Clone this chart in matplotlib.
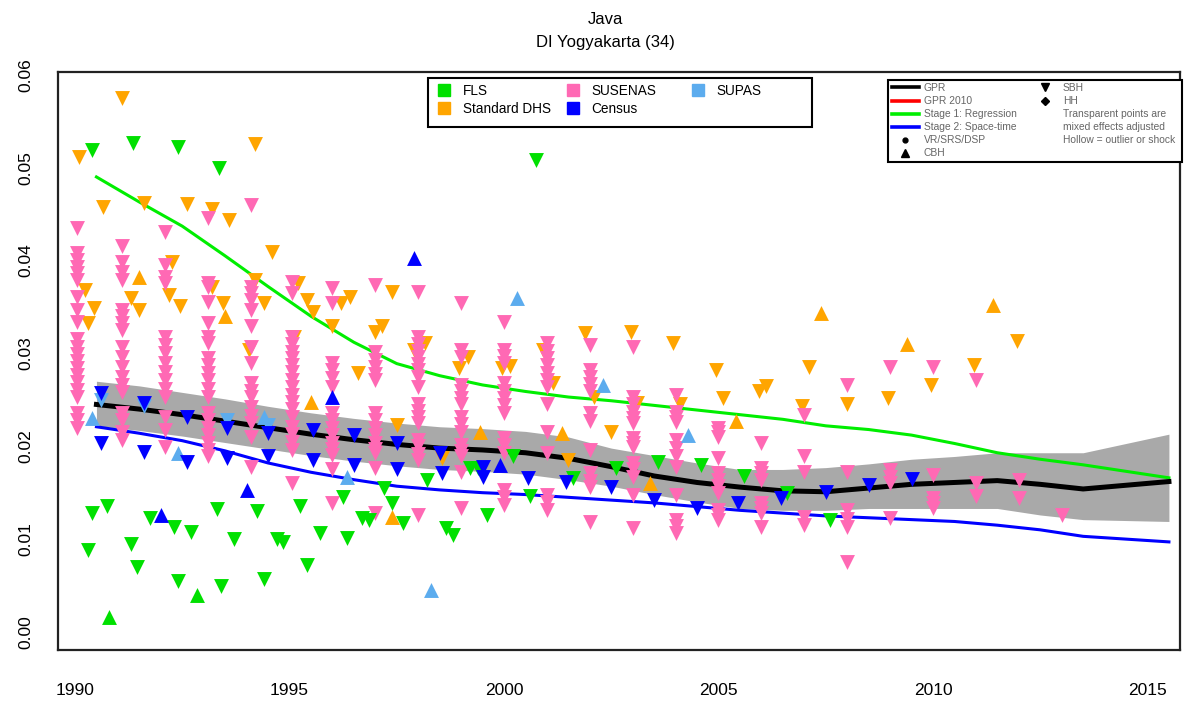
import matplotlib
matplotlib.use("Agg")
import matplotlib.pyplot as plt
from matplotlib.lines import Line2D
from matplotlib.patches import Rectangle
import numpy as np

plt.rcParams['font.family'] = ['Liberation Sans', 'DejaVu Sans']

# ---------------- data ----------------
line_years = [1990.5 + i for i in range(26)]
gpr = [0.0245, 0.0240, 0.0234, 0.0227, 0.0220, 0.0213, 0.0207, 0.0202, 0.0198, 0.0196,
       0.0193, 0.0187, 0.0178, 0.0168, 0.0161, 0.0156, 0.0152, 0.0151, 0.0155, 0.0159,
       0.0161, 0.0163, 0.0159, 0.0154, 0.0158, 0.0162]
gpr_upper = [0.0270, 0.0265, 0.0258, 0.0251, 0.0243, 0.0236, 0.0230, 0.0225, 0.0221, 0.0219,
             0.0216, 0.0210, 0.0198, 0.0190, 0.0182, 0.0175, 0.0175, 0.0177, 0.0181, 0.0186,
             0.0189, 0.0193, 0.0193, 0.0193, 0.0203, 0.0213]
gpr_lower = [0.0222, 0.0217, 0.0211, 0.0204, 0.0197, 0.0190, 0.0184, 0.0179, 0.0175, 0.0173,
             0.0170, 0.0164, 0.0157, 0.0148, 0.0140, 0.0133, 0.0131, 0.0131, 0.0133, 0.0133,
             0.0133, 0.0133, 0.0126, 0.0121, 0.0120, 0.0119]
stage1 = [0.0490, 0.0463, 0.0437, 0.0405, 0.0372, 0.0340, 0.0312, 0.0289, 0.0276, 0.0266,
          0.0259, 0.0253, 0.0249, 0.0244, 0.0239, 0.0234, 0.0229, 0.0222, 0.0218, 0.0212,
          0.0203, 0.0193, 0.0186, 0.0180, 0.0173, 0.0166]
stage2 = [0.0221, 0.0214, 0.0206, 0.0195, 0.0182, 0.0172, 0.0164, 0.0157, 0.0153, 0.0150,
          0.0148, 0.0145, 0.0142, 0.0139, 0.0135, 0.0131, 0.0128, 0.0125, 0.0123, 0.0121,
          0.0119, 0.0115, 0.0110, 0.0103, 0.0100, 0.0097]

# SUSENAS (SBH) columns: survey year -> estimates
susenas_years = [1990.05, 1991.1, 1992.1, 1993.1, 1994.1, 1995.05, 1996.0, 1997.0, 1998.0,
                 1999.0, 2000.0, 2001.0, 2002.0, 2003.0, 2004.0, 2005.0, 2006.0, 2007.0,
                 2008.0, 2009.0, 2010.0, 2011.0, 2012.0, 2013.0]
susenas_vals = [
    [0.0435, 0.0408, 0.0401, 0.0393, 0.0387, 0.0379, 0.0361, 0.0347, 0.0334, 0.0315, 0.0307,
     0.0299, 0.0292, 0.0284, 0.0277, 0.0269, 0.0261, 0.0253, 0.0236, 0.0228, 0.0220],
    [0.0416, 0.0398, 0.0388, 0.0379, 0.0347, 0.0340, 0.0333, 0.0325, 0.0307, 0.0296, 0.0285,
     0.0275, 0.0266, 0.0258, 0.0236, 0.0228, 0.0215, 0.0207],
    [0.0431, 0.0395, 0.0382, 0.0376, 0.0318, 0.0309, 0.0300, 0.0290, 0.0280, 0.0271, 0.0262,
     0.0253, 0.0231, 0.0218, 0.0199],
    [0.0446, 0.0376, 0.0372, 0.0355, 0.0333, 0.0318, 0.0311, 0.0295, 0.0287, 0.0279, 0.0271,
     0.0262, 0.0253, 0.0236, 0.0228, 0.0220, 0.0212, 0.0203, 0.0196, 0.0189],
    [0.0460, 0.0372, 0.0365, 0.0358, 0.0347, 0.0329, 0.0307, 0.0290, 0.0268, 0.0260, 0.0253,
     0.0242, 0.0233, 0.0225, 0.0210, 0.0178],
    [0.0377, 0.0365, 0.0318, 0.0310, 0.0302, 0.0295, 0.0287, 0.0280, 0.0271, 0.0264, 0.0255,
     0.0248, 0.0240, 0.0232, 0.0221, 0.0213, 0.0205, 0.0196, 0.0160],
    [0.0370, 0.0354, 0.0290, 0.0282, 0.0273, 0.0264, 0.0236, 0.0228, 0.0220, 0.0212, 0.0204,
     0.0197, 0.0191, 0.0175, 0.0139],
    [0.0374, 0.0301, 0.0293, 0.0285, 0.0278, 0.0271, 0.0236, 0.0228, 0.0220, 0.0212, 0.0204,
     0.0197, 0.0193, 0.0177, 0.0128],
    [0.0366, 0.0318, 0.0310, 0.0303, 0.0296, 0.0289, 0.0282, 0.0275, 0.0264, 0.0245, 0.0238,
     0.0231, 0.0225, 0.0207, 0.0200, 0.0192, 0.0185, 0.0126],
    [0.0354, 0.0304, 0.0296, 0.0266, 0.0259, 0.0252, 0.0245, 0.0232, 0.0224, 0.0215, 0.0201,
     0.0195, 0.0189, 0.0172, 0.0134],
    [0.0334, 0.0304, 0.0297, 0.0290, 0.0268, 0.0260, 0.0252, 0.0244, 0.0236, 0.0209, 0.0201,
     0.0193, 0.0153, 0.0145, 0.0137],
    [0.0311, 0.0303, 0.0295, 0.0287, 0.0279, 0.0271, 0.0264, 0.0245, 0.0215, 0.0193, 0.0148,
     0.0140, 0.0131],
    [0.0309, 0.0282, 0.0275, 0.0267, 0.0259, 0.0236, 0.0227, 0.0196, 0.0171, 0.0163, 0.0156,
     0.0118],
    [0.0307, 0.0253, 0.0245, 0.0237, 0.0230, 0.0225, 0.0209, 0.0204, 0.0199, 0.0182, 0.0175,
     0.0167, 0.0148, 0.0112],
    [0.0255, 0.0237, 0.0231, 0.0226, 0.0207, 0.0198, 0.0189, 0.0178, 0.0148, 0.0121, 0.0114,
     0.0107],
    [0.0220, 0.0215, 0.0210, 0.0187, 0.0171, 0.0164, 0.0157, 0.0150, 0.0131, 0.0126, 0.0121],
    [0.0204, 0.0177, 0.0171, 0.0164, 0.0139, 0.0134, 0.0128, 0.0113],
    [0.0234, 0.0189, 0.0172, 0.0124, 0.0115],
    [0.0266, 0.0172, 0.0131, 0.0122, 0.0113, 0.0075],
    [0.0285, 0.0174, 0.0167, 0.0160, 0.0123],
    [0.0285, 0.0169, 0.0144, 0.0139, 0.0134],
    [0.0271, 0.0160, 0.0146],
    [0.0164, 0.0144],
    [0.0126],
]

# Standard DHS
dhs_sbh_x = [1990.1, 1990.65, 1990.23, 1990.45, 1990.3, 1991.1, 1991.3, 1991.5, 1991.6,
             1992.6, 1992.25, 1992.2, 1992.45, 1993.2, 1993.6, 1993.2, 1993.45,
             1994.2, 1994.6, 1994.2, 1994.4, 1994.05, 1995.2, 1995.4, 1995.55, 1995.1,
             1996.0, 1996.2, 1996.4, 1996.6, 1997.0, 1997.15, 1997.4, 1997.5,
             1997.9, 1998.15, 1998.55, 1998.95, 1999.15, 1999.95, 2000.15, 2000.9,
             2001.15, 2001.5, 2001.9, 2002.1, 2002.5, 2002.95, 2003.1, 2003.95, 2004.1,
             2004.95, 2005.1, 2005.95, 2006.1, 2006.95, 2007.1, 2008.0, 2008.95, 2009.95,
             2010.95, 2011.95]
dhs_sbh_y = [0.0512, 0.0458, 0.0368, 0.0349, 0.0333, 0.0575, 0.0360, 0.0347, 0.0462,
             0.0461, 0.0398, 0.0363, 0.0351, 0.0455, 0.0444, 0.0372, 0.0354,
             0.0525, 0.0409, 0.0379, 0.0354, 0.0304, 0.0376, 0.0358, 0.0345, 0.0318,
             0.0329, 0.0354, 0.0361, 0.0279, 0.0323, 0.0329, 0.0366, 0.0223,
             0.0304, 0.0311, 0.0187, 0.0284, 0.0296, 0.0284, 0.0286, 0.0304,
             0.0268, 0.0185, 0.0322, 0.0253, 0.0215, 0.0323, 0.0247, 0.0311, 0.0245,
             0.0282, 0.0252, 0.0259, 0.0265, 0.0243, 0.0285, 0.0245, 0.0252, 0.0266,
             0.0287, 0.0313]
dhs_cbh_x = [1991.5, 1993.5, 1995.5, 1997.4, 1999.45, 2001.35, 2003.4, 2005.4, 2007.4,
             2009.4, 2011.4]
dhs_cbh_y = [0.0382, 0.0340, 0.0248, 0.0124, 0.0215, 0.0214, 0.0160, 0.0227, 0.0344,
             0.0310, 0.0352]

# FLS
fls_sbh_x = [1990.4, 1991.35, 1992.4, 1993.35, 2000.75, 1990.75, 1990.4, 1990.3, 1991.3,
             1991.45, 1991.75, 1992.3, 1992.7, 1992.4, 1993.3, 1993.4, 1993.7, 1994.25,
             1994.4, 1994.7, 1994.85, 1995.25, 1995.7, 1995.4, 1996.25, 1996.35, 1997.2,
             1997.4, 1996.7, 1996.85, 1997.65, 1998.2, 1998.65, 1998.8, 1999.2, 1999.4,
             1999.6, 2000.2, 2000.6, 2001.6, 2002.6, 2003.6, 2004.6, 2005.6, 2006.6, 2007.6]
fls_sbh_y = [0.0519, 0.0527, 0.0522, 0.0500, 0.0508, 0.0136, 0.0128, 0.0088, 0.0095,
             0.0070, 0.0123, 0.0113, 0.0108, 0.0055, 0.0132, 0.0050, 0.0100, 0.0130,
             0.0057, 0.0100, 0.0097, 0.0136, 0.0107, 0.0072, 0.0145, 0.0101, 0.0155,
             0.0139, 0.0123, 0.0121, 0.0117, 0.0164, 0.0112, 0.0104, 0.0177, 0.0177,
             0.0126, 0.0189, 0.0146, 0.0166, 0.0177, 0.0183, 0.0180, 0.0168, 0.0150, 0.0121]
fls_cbh_x = [1990.8, 1992.85]
fls_cbh_y = [0.0016, 0.0040]

# Census
census_sbh_x = [1990.6, 1990.6, 1991.6, 1991.6, 1992.6, 1992.6, 1993.55, 1993.55, 1994.5,
                1994.5, 1995.55, 1995.55, 1996.5, 1996.5, 1997.5, 1997.5, 1998.5, 1998.55,
                1999.5, 1999.5, 2000.55, 2001.45, 2002.5, 2003.5, 2004.5, 2005.45, 2006.45,
                2007.5, 2008.5, 2009.5]
census_sbh_y = [0.0257, 0.0204, 0.0247, 0.0194, 0.0232, 0.0183, 0.0220, 0.0187, 0.0214,
                0.0190, 0.0218, 0.0185, 0.0212, 0.0180, 0.0204, 0.0175, 0.0193, 0.0171,
                0.0178, 0.0167, 0.0166, 0.0162, 0.0156, 0.0142, 0.0133, 0.0139, 0.0144,
                0.0151, 0.0158, 0.0165]
census_cbh_x = [1992.0, 1994.0, 1996.0, 1997.9, 1999.9]
census_cbh_y = [0.0126, 0.0153, 0.0253, 0.0403, 0.0180]

# SUPAS
supas_sbh_x = [1990.6, 1991.6, 1993.55, 1994.5]
supas_sbh_y = [0.0250, 0.0243, 0.0228, 0.0223]
supas_cbh_x = [1990.4, 1992.4, 1994.4, 1996.35, 1998.3, 2000.3, 2002.3, 2004.3]
supas_cbh_y = [0.0230, 0.0193, 0.0232, 0.0167, 0.0045, 0.0360, 0.0266, 0.0212]

x_ticks = [1990, 1995, 2000, 2005, 2010, 2015]
y_ticks = [0.00, 0.01, 0.02, 0.03, 0.04, 0.05, 0.06]
y_ticklabels = ["0.00", "0.01", "0.02", "0.03", "0.04", "0.05", "0.06"]

# ---------------- colours ----------------
C_FLS = "#00E000"
C_DHS = "#FFA500"
C_SUS = "#FF69B4"
C_CEN = "#0000FF"
C_SUP = "#5CACEE"

# ---------------- figure ----------------
W, H = 1185, 704
fig = plt.figure(figsize=(W / 100, H / 100), dpi=100)
ax = fig.add_axes([58 / W, 1 - 650 / H, (1180 - 58) / W, (650 - 72) / H])

ax.fill_between(line_years, gpr_lower, gpr_upper, color="#A9A9A9", lw=0, zorder=1)
ax.plot(line_years, stage1, color="#00EE00", lw=2.2, zorder=2)
ax.plot(line_years, stage2, color="#0000FF", lw=2.2, zorder=2)
ax.plot(line_years, gpr, color="black", lw=3.6, zorder=3)

S = 115
sx, sy = [], []
for yr, vals in zip(susenas_years, susenas_vals):
    sx += [yr] * len(vals)
    sy += vals
ax.scatter(dhs_sbh_x, dhs_sbh_y, marker="v", s=S, color=C_DHS, lw=0, zorder=4)
ax.scatter(dhs_cbh_x, dhs_cbh_y, marker="^", s=S, color=C_DHS, lw=0, zorder=4)
ax.scatter(sx, sy, marker="v", s=S, color=C_SUS, lw=0, zorder=5)
ax.scatter(fls_sbh_x, fls_sbh_y, marker="v", s=S, color=C_FLS, lw=0, zorder=6)
ax.scatter(fls_cbh_x, fls_cbh_y, marker="^", s=S, color=C_FLS, lw=0, zorder=6)
ax.scatter(supas_sbh_x, supas_sbh_y, marker="v", s=S, color=C_SUP, lw=0, zorder=6)
ax.scatter(supas_cbh_x, supas_cbh_y, marker="^", s=S, color=C_SUP, lw=0, zorder=6)
ax.scatter(census_sbh_x, census_sbh_y, marker="v", s=S, color=C_CEN, lw=0, zorder=7)
ax.scatter(census_cbh_x, census_cbh_y, marker="^", s=S, color=C_CEN, lw=0, zorder=7)

ax.set_xlim(1989.604, 2015.758)
ax.set_ylim(-0.00194, 0.0603)
ax.set_xticks(x_ticks)
ax.set_xticklabels([str(t) for t in x_ticks], fontsize=12.5)
ax.set_yticks(y_ticks)
ax.set_yticklabels(y_ticklabels, fontsize=12.5, rotation=90, va="center")
ax.tick_params(axis="both", length=0)
ax.tick_params(axis="x", pad=24)
ax.tick_params(axis="y", pad=18)
for sp in ax.spines.values():
    sp.set_linewidth(1.6)
    sp.set_color("#222222")

fig.text(0.511, 1 - 19 / H, "Java", ha="center", va="center", fontsize=12)
fig.text(0.511, 1 - 43 / H, "DI Yogyakarta (34)", ha="center", va="center", fontsize=12)

# legend frames (drawn as plain boxes)
def frame(x0, y0, x1, y1):
    r = Rectangle((x0 / W, 1 - y1 / H), (x1 - x0) / W, (y1 - y0) / H,
                  transform=fig.transFigure, facecolor="white", edgecolor="black",
                  lw=1.5, zorder=9)
    fig.add_artist(r)

frame(428, 78, 812, 127)
frame(888, 80, 1182, 162)

# source legend: three equal-width columns
def sq(c):
    return Line2D([], [], marker="s", color="none", markerfacecolor=c, markeredgecolor=c,
                  markersize=9)

src_cols = [([sq(C_FLS), sq(C_DHS)], ["FLS", "Standard DHS"], 434),
            ([sq(C_SUS), sq(C_CEN)], ["SUSENAS", "Census"], 563),
            ([sq(C_SUP)], ["SUPAS"], 688)]
for hs, ls, px in src_cols:
    lg = fig.legend(hs, ls, loc="upper left", bbox_to_anchor=(px / W, 1 - 81 / H),
                    fontsize=9.8, frameon=False, handlelength=1.0, handletextpad=0.9,
                    labelspacing=0.3, borderpad=0.2, borderaxespad=0)
    lg.set_zorder(10)

# model legend
def ln(c):
    return Line2D([], [], color=c, lw=2.6)

def mk(m, ms):
    return Line2D([], [], marker=m, color="none", markerfacecolor="black",
                  markeredgecolor="black", markersize=ms)

blank = Line2D([], [], color="none")
h2 = [ln("black"), ln("red"), ln("#00EE00"), ln("blue"), mk("o", 3.5), mk("^", 6),
      mk("v", 6), mk("D", 4.5), blank, blank, blank]
l2 = ["GPR", "GPR 2010", "Stage 1: Regression", "Stage 2: Space-time", "VR/SRS/DSP", "CBH",
      "SBH", "HH", "Transparent points are", "mixed effects adjusted",
      "Hollow = outlier or shock"]
leg2 = fig.legend(h2, l2, ncol=2, loc="upper left", bbox_to_anchor=(890 / W, 1 - 81 / H),
                  fontsize=7.4, frameon=False, handlelength=2.6, handletextpad=0.5,
                  columnspacing=1.4, labelspacing=0.3, borderpad=0.2, borderaxespad=0,
                  labelcolor="#666666")
leg2.set_zorder(10)

fig.savefig("out.png", dpi=100)
